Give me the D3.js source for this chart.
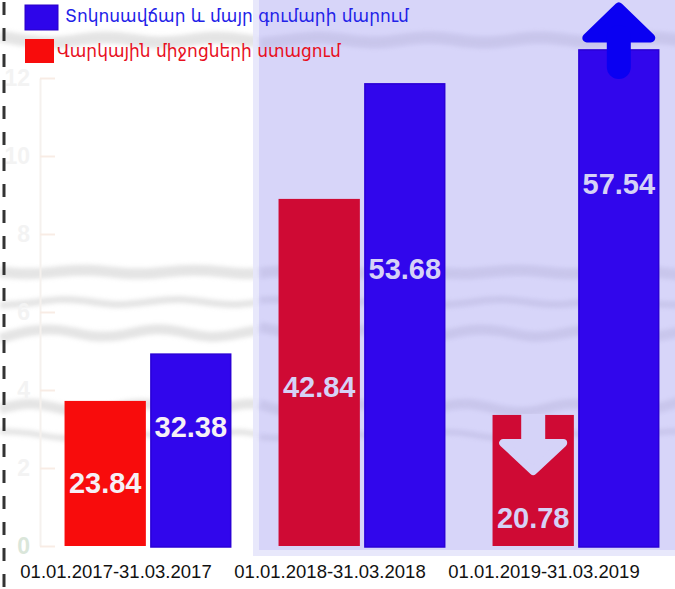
<!DOCTYPE html>
<html>
<head>
<meta charset="utf-8">
<script src="https://cdn.jsdelivr.net/npm/d3@7"></script>
<style>
  html, body { margin: 0; padding: 0; background: #fff; }
  svg { display: block; }
</style>
</head>
<body>
<svg width="675" height="589"></svg>
<script>
// periods on the x axis
var periods = ["01.01.2017-31.03.2017", "01.01.2018-31.03.2018", "01.01.2019-31.03.2019"];
// series (legend order)
var seriesNames = ["Տոկոսավճար և մայր գումարի մարում", "Վարկային միջոցների ստացում"];
// printed values on the bars
var repayValues = [32.38, 53.68, 57.54];
var receiptValues = [23.84, 42.84, 20.78];
// bar lengths
var repayLevels = [4.92, 11.85, 12.72];
var receiptLevels = [3.72, 8.9, 3.36];
var axisTicks = [0, 2, 4, 6, 8, 10, 12];

var svg = d3.select("svg");
var W = 675, H = 589;

var x = d3.scaleBand().domain(periods).range([41, 683]).paddingInner(0.22).paddingOuter(0.11);
var xs = d3.scaleBand().domain(["receipt", "repay"]).range([0, x.bandwidth()]).paddingInner(0.05);
var y = d3.scaleLinear().domain([0, 12]).range([546, 78]);

// blurry texture in the background
var defs = svg.append("defs");
defs.append("filter").attr("id", "blur").append("feGaussianBlur").attr("stdDeviation", 2);

var tex = svg.append("g").attr("filter", "url(#blur)").attr("fill", "none").attr("stroke", "#cacaca").attr("opacity", 0.5);
var waves = [
  {y0: 272, amp: 3, w: 11},
  {y0: 302, amp: 4, w: 7},
  {y0: 333, amp: 6, w: 10},
  {y0: 408, amp: 7, w: 10},
  {y0: 435, amp: 5, w: 6},
  {y0: 40, amp: 4, w: 12}
];
var line = d3.line().curve(d3.curveBasis);
waves.forEach(function(wv, k) {
  var pts = d3.range(0, W + 20, 30).map(function(px, i) {
    return [px, wv.y0 + wv.amp * Math.sin(i * 1.7 + k)];
  });
  tex.append("path").attr("d", line(pts)).attr("stroke-width", wv.w);
});

// lavender panel behind the last two periods
svg.append("rect").attr("x", 253).attr("y", 0).attr("width", W - 253).attr("height", 556)
  .attr("fill", "#e6e5fb").attr("opacity", 0.9);
svg.append("rect").attr("x", 259).attr("y", 0).attr("width", W - 259).attr("height", 550)
  .attr("fill", "#d5d3f8").attr("opacity", 0.92);

// texture again, faintly, over the panel
var tex2 = svg.append("g").attr("filter", "url(#blur)").attr("fill", "none").attr("stroke", "#b9b6dc").attr("opacity", 0.45);
waves.forEach(function(wv, k) {
  var pts = d3.range(260, W + 20, 30).map(function(px, i) {
    return [px, wv.y0 + wv.amp * Math.sin(i * 1.7 + k + 9 * 1.7)];
  });
  tex2.append("path").attr("d", line(pts)).attr("stroke-width", wv.w);
});

// faint y axis
var yAxis = d3.axisLeft(y).tickValues(axisTicks).tickSizeInner(-15).tickSizeOuter(0).tickPadding(10);
var ga = svg.append("g").attr("transform", "translate(40,0)").call(yAxis);
ga.select(".domain").attr("stroke", "#f5f1ee").attr("stroke-width", 2);
ga.selectAll(".tick line").attr("stroke", "#f8ece5").attr("stroke-width", 2);
ga.selectAll(".tick text")
  .attr("fill", function(d) { return d === 0 ? "#dae6da" : "#f3f3f3"; })
  .attr("font-family", "Liberation Sans, Arial, sans-serif")
  .attr("font-weight", "bold")
  .attr("font-size", 23);

// dashed line at left edge
svg.append("line").attr("x1", 4).attr("x2", 4).attr("y1", 0).attr("y2", H)
  .attr("stroke", "#333").attr("stroke-width", 3).attr("stroke-dasharray", "13,13")
  .attr("stroke-dashoffset", -2);

// bars
var receiptColors = ["#f80c0c", "#cf0a34", "#cf0a34"];
var rows = periods.map(function(p, i) {
  return {period: p, i: i, receipt: receiptLevels[i], repay: repayLevels[i],
          receiptVal: receiptValues[i], repayVal: repayValues[i]};
});

var g = svg.selectAll("g.grp").data(rows).enter().append("g")
  .attr("class", "grp")
  .attr("transform", function(d) { return "translate(" + x(d.period) + ",0)"; });

g.append("rect")
  .attr("x", xs("receipt"))
  .attr("y", function(d) { return y(d.receipt); })
  .attr("width", xs.bandwidth())
  .attr("height", function(d) { return y(0) - y(d.receipt); })
  .attr("fill", function(d) { return receiptColors[d.i]; });

g.append("rect")
  .attr("x", xs("repay") + 0.75)
  .attr("y", function(d) { return y(d.repay); })
  .attr("width", xs.bandwidth() - 1.5)
  .attr("height", function(d) { return y(0) - y(d.repay) + 1; })
  .attr("fill", "#3106ec")
  .attr("stroke", "#2a00d6")
  .attr("stroke-width", 1.5);

// value labels (offsets below bar tops)
var receiptLabelDy = [92, 198, 113];
var repayLabelDy = [83, 195, 144];
var labelColors = ["#f6f0f6", "#d6d2f6", "#d6d2f6"];
g.append("text")
  .attr("x", xs("receipt") + xs.bandwidth() / 2)
  .attr("y", function(d) { return y(d.receipt) + receiptLabelDy[d.i]; })
  .attr("text-anchor", "middle")
  .attr("font-family", "Liberation Sans, Arial, sans-serif")
  .attr("font-weight", "bold").attr("font-size", 29)
  .attr("fill", function(d) { return labelColors[d.i]; })
  .text(function(d) { return d.receiptVal.toFixed(2); });
g.append("text")
  .attr("x", xs("repay") + xs.bandwidth() / 2)
  .attr("y", function(d) { return y(d.repay) + repayLabelDy[d.i]; })
  .attr("text-anchor", "middle")
  .attr("font-family", "Liberation Sans, Arial, sans-serif")
  .attr("font-weight", "bold").attr("font-size", 29)
  .attr("fill", function(d) { return labelColors[d.i]; })
  .text(function(d) { return d.repayVal.toFixed(2); });

// arrows on the 2019 bars
var last = rows[2];
var upX = x(last.period) + xs("repay") + xs.bandwidth() / 2;
var upTop = y(last.repay) - 43;
svg.append("path")
  .attr("d", "M" + (upX - 32) + "," + (upTop + 31) + "L" + upX + "," + upTop + "L" + (upX + 32) + "," + (upTop + 31) + "Z")
  .attr("fill", "#0a00f2").attr("stroke", "#0a00f2").attr("stroke-width", 9).attr("stroke-linejoin", "round");
svg.append("line")
  .attr("x1", upX).attr("x2", upX).attr("y1", upTop + 30).attr("y2", upTop + 60)
  .attr("stroke", "#0a00f2").attr("stroke-width", 24).attr("stroke-linecap", "round");

var dnX = x(last.period) + xs("receipt") + xs.bandwidth() / 2;
var dnTop = y(last.receipt);
svg.append("rect")
  .attr("x", dnX - 12).attr("y", dnTop - 1).attr("width", 24).attr("height", 30)
  .attr("fill", "#d5d3f8");
svg.append("path")
  .attr("d", "M" + (dnX - 30) + "," + (dnTop + 28) + "L" + (dnX + 30) + "," + (dnTop + 28) + "L" + dnX + "," + (dnTop + 56) + "Z")
  .attr("fill", "#d5d3f8").attr("stroke", "#d5d3f8").attr("stroke-width", 8).attr("stroke-linejoin", "round");

// x labels
svg.selectAll("text.xl").data(periods).enter().append("text")
  .attr("class", "xl")
  .attr("x", function(d) { return x(d) + x.bandwidth() / 2 - 32; })
  .attr("y", 578)
  .attr("text-anchor", "middle")
  .attr("font-family", "Liberation Sans, Arial, sans-serif")
  .attr("font-size", 18.5)
  .attr("fill", "#111")
  .text(function(d) { return d; });

// legend
var legendColors = ["#2e05ea", "#f80c0c"];
var legendText = ["#2222e8", "#e8101e"];
var lg = svg.selectAll("g.lg").data(seriesNames).enter().append("g").attr("class", "lg");
lg.append("rect")
  .attr("x", 25)
  .attr("y", function(d, i) { return i === 0 ? 5 : 39; })
  .attr("width", function(d, i) { return i === 0 ? 33 : 29; })
  .attr("height", function(d, i) { return i === 0 ? 25 : 24; })
  .attr("fill", function(d, i) { return legendColors[i]; })
  .attr("stroke", function(d, i) { return i === 0 ? "#2a00c8" : "none"; });
lg.append("text")
  .attr("x", function(d, i) { return i === 0 ? 65 : 57; })
  .attr("y", function(d, i) { return i === 0 ? 22 : 57; })
  .attr("font-family", "DejaVu Sans, sans-serif")
  .attr("font-size", 17)
  .attr("fill", function(d, i) { return legendText[i]; })
  .text(function(d) { return d; });
</script>
</body>
</html>
